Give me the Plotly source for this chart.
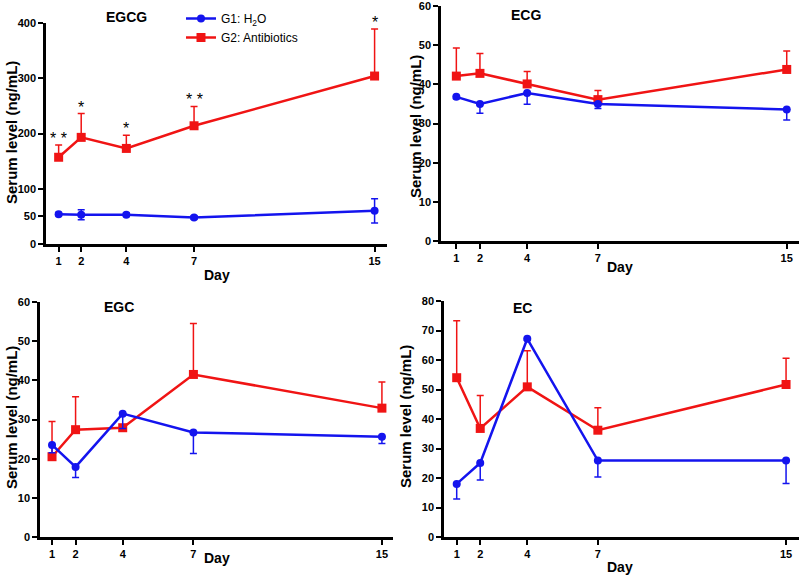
import plotly.graph_objects as go

days = [1, 2, 4, 7, 15]
day_ticks = [1, 2, 4, 7, 15]

# EGCG
egcg_g1 = [54, 53, 53, 48, 60]
egcg_g1_err = [3, 9, 3, 3, 22]
egcg_g2 = [157, 193, 173, 214, 304]
egcg_g2_err = [22, 43, 24, 35, 85]
egcg_stars = ["* *", "*", "*", "* *", "*"]

# ECG
ecg_g1 = [36.8, 35.0, 37.8, 35.0, 33.6]
ecg_g1_err = [0.5, 2.4, 2.9, 1.2, 2.7]
ecg_g2 = [42.1, 42.8, 40.1, 36.1, 43.8]
ecg_g2_err = [7.2, 5.1, 3.2, 2.3, 4.7]

# EGC
egc_g1 = [23.5, 17.9, 31.5, 26.7, 25.6]
egc_g1_err = [2.0, 2.7, 3.8, 5.4, 1.7]
egc_g2 = [20.5, 27.4, 27.9, 41.5, 32.9]
egc_g2_err = [9.0, 8.4, 0.5, 13.0, 6.7]

# EC
ec_g1 = [18.0, 25.1, 67.2, 25.9, 25.9]
ec_g1_err = [5.1, 5.8, 0.5, 5.6, 7.8]
ec_g2 = [54.0, 36.8, 50.9, 36.2, 51.7]
ec_g2_err = [19.3, 11.2, 12.2, 7.6, 8.9]

W, H = 800, 577
BLUE = "#1414ee"
RED = "#f01414"
FONT = "Arial, Liberation Sans, sans-serif"

panels = [
    dict(name="EGCG", g1=egcg_g1, e1=egcg_g1_err, g2=egcg_g2, e2=egcg_g2_err, sym=True,
         yt=[0, 50, 100, 200, 300, 400], yr=[0, 400], box=(46, 387, 23, 244), xr=[0.44, 15.55],
         tpos=(126, 17), dpos=(217, 275), spos=(11, 133)),
    dict(name="ECG", g1=ecg_g1, e1=ecg_g1_err, g2=ecg_g2, e2=ecg_g2_err, sym=False,
         yt=[0, 10, 20, 30, 40, 50, 60], yr=[0, 60], box=(441, 799, 6, 241), xr=[0.35, 15.52],
         tpos=(526, 15), dpos=(620, 267), spos=(415, 127)),
    dict(name="EGC", g1=egc_g1, e1=egc_g1_err, g2=egc_g2, e2=egc_g2_err, sym=False,
         yt=[0, 10, 20, 30, 40, 50, 60], yr=[0, 60], box=(40, 393, 302, 537), xr=[0.49, 15.47],
         tpos=(119, 307), dpos=(217, 558), spos=(11, 418)),
    dict(name="EC", g1=ec_g1, e1=ec_g1_err, g2=ec_g2, e2=ec_g2_err, sym=False,
         yt=[0, 10, 20, 30, 40, 50, 60, 70, 80], yr=[0, 80], box=(444, 799, 301, 537), xr=[0.46, 15.55],
         tpos=(522, 308), dpos=(620, 567), spos=(405, 417)),
]

fig = go.Figure()
annotations = []
layout = {}
for i, p in enumerate(panels):
    k = "" if i == 0 else str(i + 1)
    xa, ya = "x" + k, "y" + k
    x0, x1, yt, yb = p["box"]
    common = dict(
        showgrid=False, zeroline=False, automargin=False, ticklabeloverflow="allow",
        showline=True, linecolor="black", linewidth=2.5, ticks="outside", ticklen=5, tickwidth=2,
        tickcolor="black", tickfont=dict(family=FONT, size=11, color="black", weight="bold"),
        fixedrange=True, tickmode="array",
    )
    layout["xaxis" + k] = dict(
        domain=[x0 / W, x1 / W], range=p["xr"], anchor=ya,
        tickvals=day_ticks, ticktext=[str(d) for d in day_ticks], ticklabelstandoff=0, **common,
    )
    layout["yaxis" + k] = dict(
        domain=[1 - yb / H, 1 - yt / H], range=p["yr"], anchor=xa,
        tickvals=p["yt"], **common,
    )
    fig.add_trace(go.Scatter(
        x=days, y=p["g2"], xaxis=xa, yaxis=ya, mode="lines+markers", name="G2: Antibiotics",
        line=dict(color=RED, width=2.5), marker=dict(symbol="square", size=9, color=RED),
        error_y=dict(type="data", symmetric=False, array=p["e2"], arrayminus=[0] * 5,
                     color=RED, thickness=1.5, width=3.5),
        showlegend=(i == 0), legendrank=2, cliponaxis=False,
    ))
    fig.add_trace(go.Scatter(
        x=days, y=p["g1"], xaxis=xa, yaxis=ya, mode="lines+markers", name="G1: H<sub>2</sub>O",
        line=dict(color=BLUE, width=2.5), marker=dict(symbol="circle", size=8, color=BLUE),
        error_y=dict(type="data", symmetric=False,
                     array=p["e1"] if p["sym"] else [0] * 5, arrayminus=p["e1"],
                     color=BLUE, thickness=1.5, width=3.5),
        showlegend=(i == 0), legendrank=1, cliponaxis=False,
    ))
    tx, ty = p["tpos"]
    annotations.append(dict(text="<b>%s</b>" % p["name"], x=tx / W, y=1 - ty / H, xref="paper", yref="paper",
                            xanchor="center", yanchor="middle",
                            showarrow=False, font=dict(family=FONT, size=14, color="black")))
    dx, dy = p["dpos"]
    annotations.append(dict(text="<b>Day</b>", x=dx / W, y=1 - dy / H, xref="paper", yref="paper",
                            xanchor="center", yanchor="middle",
                            showarrow=False, font=dict(family=FONT, size=14, color="black")))
    sx, sy = p["spos"]
    annotations.append(dict(text="<b>Serum level (ng/mL)</b>", x=sx / W, y=1 - sy / H, xref="paper", yref="paper",
                            xanchor="center", yanchor="middle",
                            showarrow=False, textangle=-90, font=dict(family=FONT, size=15, color="black")))

# significance stars on EGCG
for d, v, e, s in zip(days, egcg_g2, egcg_g2_err, egcg_stars):
    annotations.append(dict(text=s, x=d, y=v + e, xref="x", yref="y", showarrow=False,
                            xanchor="center", yanchor="bottom", yshift=-4,
                            font=dict(family=FONT, size=16, color="black")))

fig.update_layout(
    **layout,
    width=W, height=H, margin=dict(l=0, r=0, t=0, b=0, autoexpand=False),
    paper_bgcolor="white", plot_bgcolor="white",
    annotations=annotations,
    legend=dict(x=181 / W, y=1 - 4 / H, xanchor="left", yanchor="top", bgcolor="rgba(0,0,0,0)",
                font=dict(family=FONT, size=12, color="black"), itemwidth=30, tracegroupgap=0,
                traceorder="normal"),
)

fig.write_html("out.html", config={"displayModeBar": False},
               post_script="document.body.style.margin='0px';document.body.style.padding='0px';")
